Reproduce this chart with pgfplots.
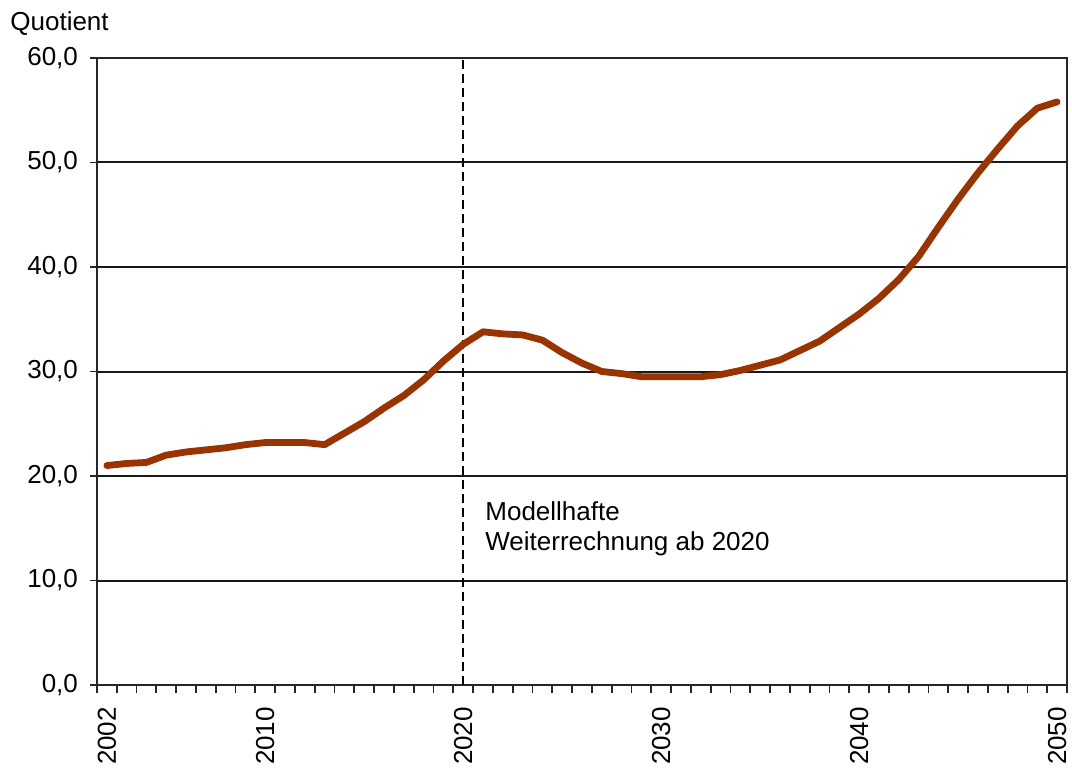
\documentclass[border=0pt]{standalone}
\usepackage{fontspec}
\setmainfont{Liberation Sans}
\usepackage{pgfplots}
\pgfplotsset{compat=1.18}
\definecolor{linebrown}{HTML}{993300}
\begin{document}
\begin{tikzpicture}
\begin{axis}[
  scale only axis,
  width=485pt, height=313.5pt,
  xmin=2001.5, xmax=2050.5,
  ymin=0, ymax=60,
  axis line style={line width=1pt, black!85},
  xtick={2002,2010,2020,2030,2040,2050},
  xticklabels={2002,2010,2020,2030,2040,2050},
  minor xtick={2001.5,2002.5,...,2050.5},
  major x tick style={draw=none},
  minor x tick style={line width=0.9pt, black!85},
  minor tick length=4pt,
  ytick={0,10,...,60},
  yticklabel={\pgfmathprintnumber[fixed,fixed zerofill,precision=1,use comma]{\tick}},
  major y tick style={line width=0.9pt, black!85},
  major tick length=3.5pt,
  tick align=outside,
  xtick pos=bottom, ytick pos=left,
  ymajorgrids,
  grid style={line width=1pt, black!90},
  /pgf/number format/assume math mode=true,
  tick label style={font=\fontsize{13}{15}\selectfont},
  x tick label style={rotate=90, anchor=east},
  xticklabel shift=4pt,
  yticklabel shift=2.5pt,
  xticklabel={\pgfmathprintnumber[1000 sep=]{\tick}},
  clip=false,
]
\addplot[black, line width=0.8pt, dash pattern=on 4.5pt off 2.5pt] coordinates {(2020,0) (2020,60)};
\addplot[linebrown, line width=3.4pt, line join=round, line cap=round] coordinates {
(2002,21.0) (2003,21.2) (2004,21.3) (2005,22.0) (2006,22.3) (2007,22.5)
(2008,22.7) (2009,23.0) (2010,23.2) (2011,23.2) (2012,23.2) (2013,23.0)
(2014,24.1) (2015,25.2) (2016,26.5) (2017,27.7) (2018,29.2) (2019,31.0)
(2020,32.6) (2021,33.8) (2022,33.6) (2023,33.5) (2024,33.0) (2025,31.8)
(2026,30.8) (2027,30.0) (2028,29.8) (2029,29.5) (2030,29.5) (2031,29.5)
(2032,29.5) (2033,29.7) (2034,30.1) (2035,30.6) (2036,31.1) (2037,32.0)
(2038,32.9) (2039,34.2) (2040,35.5) (2041,37.0) (2042,38.8) (2043,41.0)
(2044,43.8) (2045,46.5) (2046,49.0) (2047,51.3) (2048,53.5) (2049,55.2)
(2050,55.8)
};
\node[anchor=north west, align=left, font=\fontsize{13}{15}\selectfont, inner sep=0pt] at (axis cs:2021.1,17.6) {Modellhafte\\Weiterrechnung ab 2020};
\node[anchor=base west, font=\fontsize{13}{15}\selectfont, inner sep=0pt] at ([xshift=-43.5pt, yshift=13.5pt]rel axis cs:0,1) {Quotient};
\end{axis}
\pgfresetboundingbox
\path ([xshift=-48.5pt,yshift=-42pt]current axis.south west) rectangle ([xshift=2.5pt,yshift=29pt]current axis.north east);
\end{tikzpicture}
\end{document}
